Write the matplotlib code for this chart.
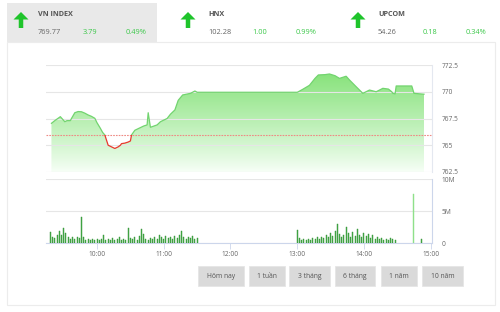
import numpy as np
import matplotlib
matplotlib.use('Agg')
import matplotlib.pyplot as plt
from matplotlib.patches import Rectangle, FancyArrow

plt.rcParams['font.family'] = ['Open Sans', 'DejaVu Sans']

# header quotes
indices = ['VN INDEX', 'HNX', 'UPCOM']
points = ['769.77', '102.28', '54.26']
changes = ['3.79', '1.00', '0.18']
pcts = ['0.49%', '0.99%', '0.34%']

# price line (time, value)
price_times = ['9:19', '9:22', '9:27', '9:28', '9:31', '9:33', '9:36', '9:37', '9:40', '9:43',
               '9:46', '9:49', '9:52', '9:55', '9:58', '10:00', '10:03', '10:05', '10:07', '10:10',
               '10:12', '10:16', '10:19', '10:21', '10:22', '10:25', '10:28', '10:30', '10:31', '10:34',
               '10:38', '10:42', '10:45', '10:46', '10:48', '10:54', '10:57', '11:03', '11:06', '11:10',
               '11:13', '11:17', '11:24', '11:28', '11:30', '13:00', '13:01', '13:05', '13:11', '13:16',
               '13:19', '13:25', '13:29', '13:34', '13:38', '13:44', '13:47', '13:53', '13:59', '14:05',
               '14:11', '14:17', '14:22', '14:25', '14:26', '14:28', '14:29', '14:43', '14:45', '14:54']
price_values = [767.05, 767.3, 767.67, 767.55, 767.2, 767.3, 767.3, 767.5, 768.04, 768.15,
                768.13, 768.0, 767.83, 767.7, 767.52, 767.1, 766.58, 766.2, 765.96, 765.0,
                764.9, 764.7, 764.85, 765.0, 765.15, 765.2, 765.3, 765.4, 765.96, 766.4,
                766.6, 766.8, 766.9, 768.04, 766.68, 766.9, 767.2, 767.5, 767.9, 768.3,
                769.2, 769.7, 769.85, 770.07, 769.95, 769.95, 770.0, 770.23, 770.6, 771.25,
                771.57, 771.6, 771.66, 771.5, 771.25, 771.45, 771.1, 770.47, 769.85, 770.16,
                770.0, 770.32, 770.25, 770.0, 769.85, 769.8, 770.54, 770.54, 769.85, 769.77]
prev_close = 765.98

# volume (millions), 2-minute bars
vol_morning_start = '9:18'
vol_morning = [1.7, 1.0, 0.8, 1.2, 1.9, 1.3, 2.4, 1.6, 0.9, 0.7, 1.0, 0.6, 0.9, 0.8, 4.1, 1.0, 0.5,
               0.7, 0.4, 0.6, 0.5, 0.7, 0.4, 0.6, 1.2, 0.5, 0.7, 0.4, 0.8, 0.5, 0.6, 0.9, 0.5, 0.7,
               0.4, 2.4, 0.8, 0.6, 0.9, 0.5, 1.1, 2.2, 1.4, 0.7, 0.5, 0.8, 0.6, 1.0, 0.7, 1.2, 0.9,
               0.6, 1.1, 0.8, 1.0, 0.7, 1.1, 0.8, 1.2, 1.9, 0.9, 0.7, 1.0, 0.8, 1.1, 0.7, 0.8]
vol_afternoon_start = '13:00'
vol_afternoon = [2.1, 0.8, 0.5, 0.6, 0.4, 0.7, 0.5, 0.8, 0.6, 0.9, 0.7, 1.0, 0.8, 1.3, 0.9, 1.5,
                 1.1, 1.8, 2.9, 1.4, 0.9, 1.2, 2.5, 1.5, 1.0, 1.7, 1.1, 2.2, 1.3, 0.9, 1.6, 1.1,
                 1.4, 0.8, 1.2, 0.7, 0.9, 0.6, 0.8, 0.5, 0.7, 0.4, 0.8, 0.6, 0.5]
atc_time = '14:45'
atc_volume = 7.7
late_times = ['14:52']
late_volume = [0.6]

price_ticks = [762.5, 765, 767.5, 770, 772.5]
price_tick_labels = ['762.5', '765', '767.5', '770', '772.5']
vol_ticks = [0, 5, 10]
vol_tick_labels = ['0', '5M', '10M']
hour_ticks = ['10:00', '11:00', '12:00', '13:00', '14:00', '15:00']
buttons = ['Hôm nay', '1 tuần', '3 tháng', '6 tháng', '1 năm', '10 năm']


def hrs(s):
    h, m = s.split(':')
    return int(h) + int(m) / 60.0


W, H = 500, 312
fig = plt.figure(figsize=(W / 100, H / 100), dpi=100)
fig.patch.set_facecolor('white')

# overlay in pixel coords for header, card and buttons
bg = fig.add_axes([0, 0, 1, 1], zorder=0)
bg.set_xlim(0, W)
bg.set_ylim(H, 0)
bg.axis('off')
bg.add_patch(Rectangle((7, 42), 488, 263, facecolor='white', edgecolor='#ececec', lw=0.8))
bg.add_patch(Rectangle((7, 3), 150, 39, facecolor='#e9e9e9', edgecolor='none'))

head_x = [38, 208, 378]
arrow_x = [21, 188, 358]
for i in range(3):
    bg.add_patch(FancyArrow(arrow_x[i], 28, 0, -8.5, width=4.5, head_width=15, head_length=7.5,
                            length_includes_head=False, color='#1fc42b', lw=0))
    bg.text(head_x[i], 15, indices[i], fontsize=5.2, fontweight='bold', color='#555555', va='center')
    bg.text(head_x[i], 32, points[i], fontsize=5.3, color='#666666', va='center')
    bg.text(head_x[i] + 44.5, 32, changes[i], fontsize=5.3, color='#3cc84a', va='center')
    bg.text(head_x[i] + 88, 32, pcts[i], fontsize=5.3, color='#3cc84a', va='center')

btn_x = [198, 249, 289, 335, 381, 422]
btn_w = [46, 36, 41, 40, 36, 41]
for bx, bw, lab in zip(btn_x, btn_w, buttons):
    bg.add_patch(Rectangle((bx, 266), bw, 20, facecolor='#dadada', edgecolor='#e6e6e6', lw=0.6))
    bg.text(bx + bw / 2, 276.5, lab, fontsize=4.9, color='#555555', ha='center', va='center')

x0, x1 = 9.235, 15.02

# price panel
ax = fig.add_axes([46 / W, 1 - 172 / H, 386 / W, 107 / H], zorder=2)
ax.patch.set_alpha(0)
t = np.array([hrs(s) for s in price_times])
v = np.array(price_values)
ax.set_xlim(x0, x1)
ax.set_ylim(762.5, 772.5)
poly = ax.fill_between(t, v, 762.5, facecolor='none', edgecolor='none')
grad = np.linspace(0, 1, 256).reshape(-1, 1)
top = np.array([0.50, 0.88, 0.45])
bot = np.array([0.97, 1.0, 0.97])
img = bot + (top - bot) * grad[..., None] ** 0.9
img = img.reshape(256, 1, 3)
im = ax.imshow(img, extent=[x0, x1, 762.5, 772.5], origin='lower', aspect='auto', zorder=1)
im.set_clip_path(poly.get_paths()[0], transform=ax.transData)
ax.set_xlim(x0, x1)
ax.set_ylim(762.5, 772.5)

gl, = ax.plot(t, v, color='#72d46f', lw=0.9, zorder=3)
gl.set_clip_path(Rectangle((x0, prev_close), x1 - x0, 20, transform=ax.transData))
rl, = ax.plot(t, v, color='#e8392f', lw=0.9, zorder=3)
rl.set_clip_path(Rectangle((x0, 750), x1 - x0, prev_close - 750, transform=ax.transData))
ax.axhline(prev_close, color='#ee8a84', lw=0.8, ls=(0, (1.5, 1)), zorder=2)

ax.set_yticks(price_ticks)
ax.set_yticklabels(price_tick_labels)
ax.yaxis.tick_right()
ax.tick_params(axis='y', length=0, labelsize=4.8, labelcolor='#666666', pad=7)
ax.set_xticks([])
ax.grid(axis='y', color='#e6e6e6', lw=0.8, zorder=0)
for s in ['left', 'top', 'bottom']:
    ax.spines[s].set_visible(False)
ax.spines['right'].set_color('#e4e8f0')
ax.spines['right'].set_linewidth(0.8)

# volume panel
av = fig.add_axes([46 / W, 1 - 243 / H, 386 / W, 64 / H], zorder=2)
av.patch.set_alpha(0)
tm = hrs(vol_morning_start) + np.arange(len(vol_morning)) * 2 / 60.0
ta = hrs(vol_afternoon_start) + np.arange(len(vol_afternoon)) * 2 / 60.0
bw = 0.9 / 60.0
av.bar(tm, vol_morning, width=bw, color='#4cb04c', edgecolor='#2f8f34', lw=0.3, zorder=3)
av.bar(ta, vol_afternoon, width=bw, color='#4cb04c', edgecolor='#2f8f34', lw=0.3, zorder=3)
av.bar([hrs(atc_time)], [atc_volume], width=bw, color='#8fe08a', edgecolor='#8fe08a', lw=0.3, zorder=3)
av.bar([hrs(s) for s in late_times], late_volume, width=bw, color='#4cb04c', edgecolor='#2f8f34',
       lw=0.3, zorder=3)
av.set_xlim(x0, x1)
av.set_ylim(0, 10)
av.set_yticks(vol_ticks)
av.set_yticklabels(vol_tick_labels)
av.yaxis.tick_right()
av.tick_params(axis='y', length=0, labelsize=4.8, labelcolor='#666666', pad=7)
av.set_xticks([hrs(s) for s in hour_ticks])
av.set_xticklabels(hour_ticks)
av.tick_params(axis='x', length=4, width=0.6, color='#ccd6eb', labelsize=4.8,
               labelcolor='#666666', pad=2)
av.grid(axis='y', color='#e6e6e6', lw=0.8, zorder=0)
for s in ['left', 'top']:
    av.spines[s].set_visible(False)
for s in ['right', 'bottom']:
    av.spines[s].set_color('#ccd6eb')
    av.spines[s].set_linewidth(0.8)

fig.savefig('out.png', dpi=100)
